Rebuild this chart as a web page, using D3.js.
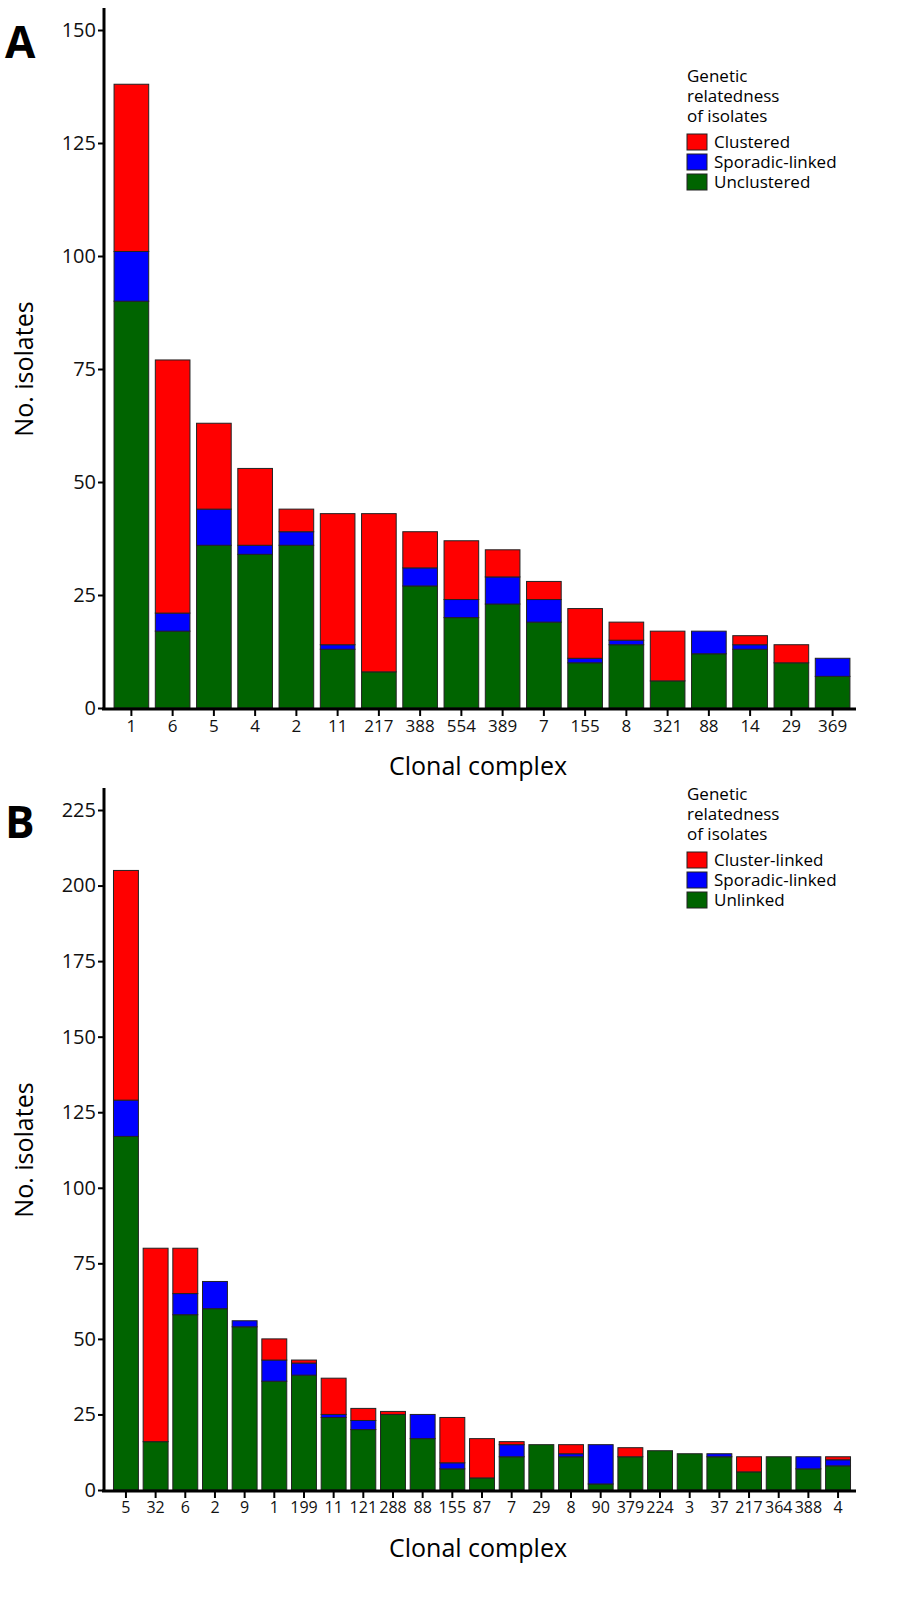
<!DOCTYPE html><html><head><meta charset="utf-8"><script src="https://cdn.jsdelivr.net/npm/d3@7"></script>
<style>body{margin:0;background:#fff}text{font-family:"Open Sans",sans-serif}</style></head><body><svg id="c" width="900" height="1613"></svg>
<script>
const catsA=["1","6","5","4","2","11","217","388","554","389","7","155","8","321","88","14","29","369"];
const unclA=[90,17,36,34,36,13,8,27,20,23,19,10,14,6,12,13,10,7];
const sporA=[11,4,8,2,3,1,0,4,4,6,5,1,1,0,5,1,0,4];
const clusA=[37,56,19,17,5,29,35,8,13,6,4,11,4,11,0,2,4,0];
const ticksA=[0,25,50,75,100,125,150];
const catsB=["5","32","6","2","9","1","199","11","121","288","88","155","87","7","29","8","90","379","224","3","37","217","364","388","4"];
const unlB=[117,16,58,60,54,36,38,24,20,25,17,7,4,11,15,11,2,11,13,12,11,6,11,7,8];
const sporB=[12,0,7,9,2,7,4,1,3,0,8,2,0,4,0,1,13,0,0,0,1,0,0,4,2];
const clusB=[76,64,15,0,0,7,1,12,4,1,0,15,13,1,0,3,0,3,0,0,0,5,0,0,1];
const ticksB=[0,25,50,75,100,125,150,175,200,225];
const colors=["#006400","#0000ff","#ff0000"];
const svg=d3.select("#c");
function panel(o){
  const g=svg.append("g");
  const x=d3.scaleBand().domain(o.cats).range([112,852]).paddingInner(o.pad).paddingOuter(0.05);
  const y=d3.scaleLinear().domain([0,o.max]).range([o.y0,o.y1]);
  const data=o.cats.map((c,i)=>({c,v:[o.s[0][i],o.s[1][i],o.s[2][i]]}));
  data.forEach(d=>{let b=0;d.v.forEach((v,k)=>{if(v>0){g.append("rect").attr("x",x(d.c)).attr("width",x.bandwidth()).attr("y",y(b+v)).attr("height",y(b)-y(b+v)).attr("fill",colors[k]).attr("stroke","#222").attr("stroke-width",1);}b+=v;});});
  const ya=g.append("g").attr("transform","translate(104,0)").call(d3.axisLeft(y).tickValues(o.ticks).tickSize(6).tickPadding(2));
  ya.select(".domain").attr("d",`M0,${o.y0}V${o.y1-22}`).attr("stroke-width",3);
  ya.selectAll(".tick line").attr("stroke-width",2);
  ya.selectAll("text").attr("font-size",20).attr("fill","#111");
  const xa=g.append("g").attr("transform",`translate(0,${o.y0+1})`).call(d3.axisBottom(x).tickSize(7).tickPadding(4));
  xa.select(".domain").attr("d",`M102,0H856`).attr("stroke-width",3);
  xa.selectAll(".tick line").attr("stroke-width",2);
  xa.selectAll("text").attr("font-size",o.fs).attr("fill","#111");
  g.append("text").attr("x",478).attr("y",o.y0+67).attr("text-anchor","middle").attr("font-size",25).text("Clonal complex");
  g.append("text").attr("transform",`translate(33,${(o.y0+o.y1)/2}) rotate(-90)`).attr("text-anchor","middle").attr("font-size",25).text("No. isolates");
  g.append("text").attr("x",5).attr("y",o.y1+28).attr("font-size",44).attr("font-weight","bold").attr("font-family","Liberation Sans, Arial").text(o.letter);
  const L=g.append("g").attr("transform",`translate(687,${o.ly})`);
  ["Genetic","relatedness","of isolates"].forEach((t,i)=>L.append("text").attr("y",i*20).attr("font-size",17).text(t));
  o.names.forEach((n,i)=>{L.append("rect").attr("x",0).attr("y",52+i*20).attr("width",20).attr("height",16).attr("fill",colors[2-i]).attr("stroke","#222");
    L.append("text").attr("x",27).attr("y",66+i*20).attr("font-size",17).text(n);});
}
panel({cats:catsA,s:[unclA,sporA,clusA],max:150,y0:708,y1:30,ticks:ticksA,pad:0.16,fs:17,letter:"A",ly:82,names:["Clustered","Sporadic-linked","Unclustered"]});
panel({cats:catsB,s:[unlB,sporB,clusB],max:225,y0:1490,y1:810,ticks:ticksB,pad:0.16,fs:16,letter:"B",ly:800,names:["Cluster-linked","Sporadic-linked","Unlinked"]});
</script></body></html>
